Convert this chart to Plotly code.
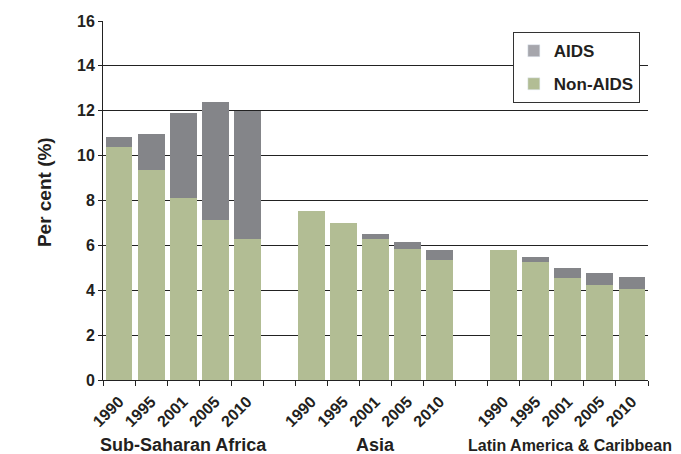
import plotly.graph_objects as go

years = ["1990", "1995", "2001", "2005", "2010"]
regions = ["Sub-Saharan Africa", "Asia", "Latin America & Caribbean"]

non_aids_ssa = [10.4, 9.35, 8.1, 7.15, 6.3]
aids_ssa = [0.45, 1.6, 3.8, 5.25, 5.7]
non_aids_asia = [7.55, 7.0, 6.3, 5.85, 5.35]
aids_asia = [0.0, 0.0, 0.22, 0.3, 0.45]
non_aids_lac = [5.8, 5.25, 4.55, 4.25, 4.05]
aids_lac = [0.0, 0.22, 0.45, 0.52, 0.55]

y_ticks = [0, 2, 4, 6, 8, 10, 12, 14, 16]

GREEN = "#b2bd94"
GRAY = "#848589"
GRAY_LEG = "#a6a6ac"
TXT = "#231f20"
FONT = "Liberation Sans"

non_all = non_aids_ssa + non_aids_asia + non_aids_lac
aids_all = aids_ssa + aids_asia + aids_lac
gap = 1
xpos = []
for g in range(len(regions)):
    for i in range(len(years)):
        xpos.append(g * (len(years) + gap) + i)
ticktext = years * len(regions)
nslots = len(regions) * len(years) + (len(regions) - 1) * gap
boundaries = [b - 0.5 for b in range(nslots + 1)]

fig = go.Figure()
fig.add_trace(go.Bar(x=xpos, y=non_all, marker=dict(color=GREEN, line=dict(width=0)),
                     width=0.84, showlegend=False, name="Non-AIDS"))
fig.add_trace(go.Bar(x=xpos, y=aids_all, marker=dict(color=GRAY, line=dict(width=0)),
                     width=0.84, showlegend=False, name="AIDS"))
# legend entries
fig.add_trace(go.Bar(x=[None], y=[None], marker=dict(color=GRAY_LEG), name="<b>AIDS</b>",
                     legendgroup="a", showlegend=True))
fig.add_trace(go.Bar(x=[None], y=[None], marker=dict(color=GREEN), name="<b>Non-AIDS</b>",
                     legendgroup="b", showlegend=True))

annotations = []
for g, reg in enumerate(regions):
    xs = xpos[g * len(years):(g + 1) * len(years)]
    last = g == len(regions) - 1
    annotations.append(dict(x=sum(xs) / len(xs) + (0.08 if last else 0), y=-0.182,
                            xref="x", yref="paper", text="<b>%s</b>" % reg, showarrow=False,
                            xanchor="center", yanchor="middle",
                            font=dict(size=16 if last else 18, color=TXT, family=FONT)))
annotations.append(dict(x=-0.106, y=0.524, xref="paper", yref="paper", textangle=-90,
                        text="<b>Per cent (%)</b>", showarrow=False, xanchor="center",
                        yanchor="middle", font=dict(size=19, color=TXT, family=FONT)))

# page body adds an 8px offset; size/margins compensate for it
fig.update_layout(
    width=673, height=446,
    margin=dict(l=95, r=33, t=13, b=74),
    paper_bgcolor="white", plot_bgcolor="white",
    barmode="stack",
    font=dict(family=FONT, color=TXT),
    annotations=annotations,
    legend=dict(x=0.752, y=0.969, xanchor="left", yanchor="top",
                bgcolor="white", bordercolor="#333333", borderwidth=1,
                traceorder="grouped", tracegroupgap=8,
                font=dict(size=17, color=TXT, family=FONT),
                itemwidth=30),
    xaxis=dict(range=[-0.5, nslots - 0.5], tickmode="array", tickvals=xpos,
               ticktext=["<b>%s</b>" % t for t in ticktext], tickangle=-45,
               ticks="outside", ticklen=5, tickcolor="rgba(0,0,0,0)",
               showgrid=False, zeroline=False,
               showline=True, linecolor="#222222", linewidth=1, automargin=False,
               tickfont=dict(size=16, color=TXT, family=FONT),
               minor=dict(tickmode="array", tickvals=boundaries, ticks="outside",
                          ticklen=5, tickcolor="#222222", tickwidth=1, showgrid=False)),
    yaxis=dict(range=[0, 16], tickmode="array", tickvals=y_ticks,
               ticktext=["<b>%d</b>" % v for v in y_ticks],
               showgrid=True, gridcolor="#222222", gridwidth=1, automargin=False,
               zeroline=False, showline=True, linecolor="#222222", linewidth=1,
               ticks="outside", ticklen=4, tickcolor="#222222",
               tickfont=dict(size=16, color=TXT, family=FONT)),
)

fig.write_html("out.html")
